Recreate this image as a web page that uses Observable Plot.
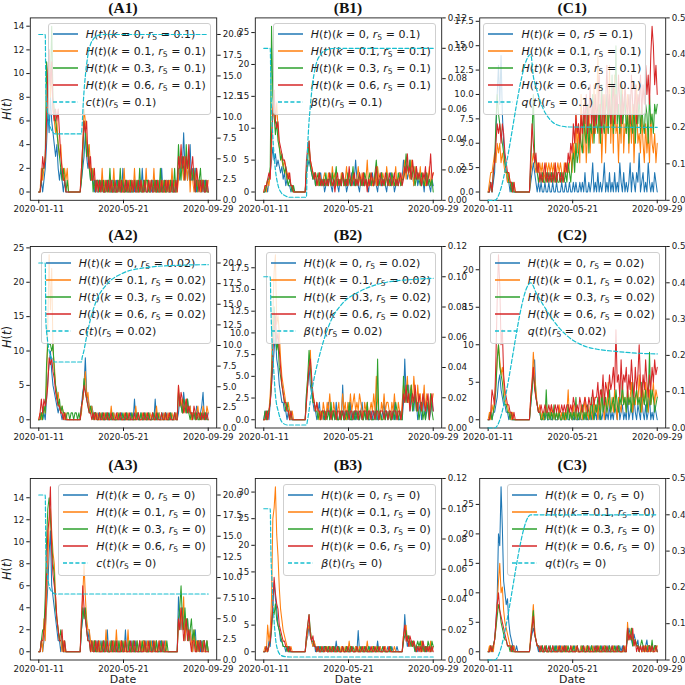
<!DOCTYPE html>
<html><head><meta charset="utf-8">
<script src="https://cdn.jsdelivr.net/npm/d3@7"></script>
<script src="https://cdn.jsdelivr.net/npm/@observablehq/plot@0.6"></script>
<style>
body{margin:0;background:#fff;}
#fig{position:relative;width:685px;height:685px;background:#fff;overflow:hidden;font-family:"DejaVu Sans",sans-serif;}
#fig > svg{position:absolute;left:0;top:0;}
.ttl{position:absolute;transform:translate(-50%,-50%);font-family:"Liberation Serif","DejaVu Serif",serif;font-weight:bold;font-size:15.5px;line-height:1;color:#111;white-space:nowrap;}
.xl{position:absolute;transform:translate(-50%,-50%);font-size:11px;line-height:1.1;color:#1a1a1a;white-space:nowrap;}
.yl{position:absolute;transform:translate(-50%,-50%) rotate(-90deg);font-size:11.5px;line-height:1.1;color:#1a1a1a;white-space:nowrap;}
.leg{position:absolute;background:rgba(255,255,255,0.8);border:1px solid #cfcfcf;border-radius:3px;padding:1.5px 4px 3px 4px;font-size:11px;color:#1a1a1a;}
.leg .row{display:flex;align-items:center;height:17px;white-space:nowrap;}
.leg .row svg{margin-right:8px;flex:none;}
.leg sub{font-size:0.7em;vertical-align:-0.3em;line-height:0;}
</style>
</head><body>
<div id="fig"></div>
<script>
// ---------------- data ----------------
const startDate = "2020-01-11";
const stepDays = 2;
const xTickLabels = ["2020-01-11", "2020-05-21", "2020-09-29"];
const kValues = ["0", "0.1", "0.3", "0.6"];
const r5Values = ["0.1", "0.02", "0"];
const colLetters = ["A", "B", "C"];
const secSymbols = ["c", "β", "q"];

// H(t) series, one value every 2 days (11 rows of 12 values = days 0..262)
const A1_k0 = [0,0,1,0,1,2,4,7,5,8,6,5, 4,3,4,2,1,2,1,0,1,0,0,0, 0,0,0,0,0,0,0,0,0,1,2,3, 5,3,2,3,1,2,1,0,1,0,0,1, 0,1,0,0,1,0,1,0,0,1,0,0, 1,0,1,0,0,2,0,1,0,0,1,0, 0,1,0,1,0,0,1,0,2,0,1,0, 0,1,0,0,1,0,1,0,0,1,0,2, 0,1,0,1,0,0,1,0,1,0,0,1, 2,1,3,2,5,2,3,1,2,4,1,2, 1,2,0,1,1,0,1,0,1,0,1,0];
const A1_k1 = [0,0,2,1,2,3,6,9,12,8,10,7, 6,5,6,4,3,4,2,1,2,1,2,0, 0,0,0,0,0,0,0,0,0,2,4,7, 6,4,3,4,2,1,2,1,0,1,0,1, 0,2,0,1,0,1,0,0,1,0,2,0, 0,1,0,1,0,0,2,0,1,0,1,0, 1,0,2,0,1,0,0,1,0,1,0,2, 0,1,0,1,0,2,0,0,1,0,1,0, 1,0,0,1,0,1,0,2,0,1,0,0, 1,3,2,2,1,3,2,1,3,0,2,1, 0,1,2,0,1,0,1,1,0,1,0,1];
const A1_k3 = [0,0,1,2,2,3,11,8,10,9,14,8, 7,6,5,4,3,2,1,2,1,0,1,0, 0,0,0,0,0,0,0,0,0,1,3,6, 5,3,4,2,1,2,0,1,0,1,1,0, 1,0,1,0,0,1,0,2,0,0,1,0, 0,1,0,2,0,1,0,0,1,0,0,1, 0,0,1,0,1,0,2,0,0,1,0,1, 1,0,0,1,0,1,0,1,0,0,2,0, 0,1,0,0,1,0,1,0,0,2,0,1, 4,2,1,3,2,1,4,2,3,1,2,1, 2,0,1,0,1,2,0,1,0,1,0,0];
const A1_k6 = [0,0,1,3,2,3,6,10,12,9,11,7, 6,7,6,7,5,3,2,1,1,0,0,0, 0,0,0,0,0,0,0,0,0,2,4,6, 5,6,3,2,3,1,1,2,0,1,0,1, 0,1,0,0,1,0,1,0,1,0,0,1, 0,0,1,0,1,0,0,1,0,1,0,0, 1,0,1,0,0,1,0,1,0,0,1,0, 0,1,0,1,0,0,1,0,1,0,0,1, 0,0,1,0,1,0,0,1,0,0,1,0, 3,2,4,2,3,1,3,2,4,1,2,3, 1,0,2,1,0,1,0,1,0,0,1,0];

const A2_k0 = [0,0,1,0,1,0,3,6,8,10,7,5, 4,3,2,1,2,1,0,1,0,0,0,0, 0,0,0,0,0,0,0,0,0,2,4,5, 9,4,3,2,1,2,1,0,1,0,1,0, 0,1,0,0,1,0,0,1,0,0,1,0, 0,1,0,0,1,0,0,0,1,0,0,1, 0,0,3,0,1,0,0,1,0,0,1,0, 0,1,0,0,1,0,3,0,0,1,0,0, 1,0,0,1,0,0,1,0,0,0,1,0, 1,3,2,1,4,2,1,3,1,2,0,1, 1,0,2,1,0,1,2,4,0,1,0,1];
const A2_k1 = [0,1,0,1,2,1,5,14,24,16,22,10, 8,5,3,4,2,1,2,1,0,1,0,0, 0,0,0,0,0,0,0,0,0,1,3,5, 7,3,4,2,1,2,0,1,0,1,0,0, 1,0,0,1,0,1,0,0,2,0,1,0, 0,1,0,1,0,0,1,0,0,1,0,0, 1,0,0,2,0,1,0,0,1,0,0,1, 0,0,1,0,1,0,0,2,0,1,0,0, 0,1,0,0,1,0,0,1,0,0,1,0, 5,2,3,1,2,1,3,2,1,2,0,1, 1,0,1,2,0,1,0,2,1,0,2,1];
const A2_k3 = [0,0,1,0,2,1,8,11,11,11,10,11, 7,5,4,2,3,1,2,1,1,0,1,1, 0,1,1,0,1,1,0,1,0,2,3,6, 4,3,2,1,2,1,0,1,1,0,0,1, 0,1,0,0,1,0,1,0,0,1,0,0, 0,0,1,0,0,1,0,0,1,0,0,0, 1,0,0,0,1,0,0,1,0,0,1,0, 0,1,0,0,0,1,0,0,1,0,0,1, 0,0,1,0,0,0,1,0,0,1,0,0, 4,3,2,1,3,2,1,3,1,0,1,0, 1,0,1,0,0,1,0,1,0,1,0,0];
const A2_k6 = [0,1,3,1,3,2,3,5,9,8,9,7, 6,4,3,2,2,1,1,0,1,0,0,0, 0,0,0,0,0,0,0,0,0,2,3,5, 4,3,2,1,1,0,1,0,1,0,0,1, 0,0,1,0,0,1,0,0,1,0,0,0, 1,0,0,1,0,0,0,1,0,0,1,0, 0,0,1,0,0,1,0,0,0,1,0,0, 1,0,0,0,1,0,0,1,0,0,0,1, 0,0,1,0,0,1,0,0,0,1,0,0, 5,2,4,3,1,2,3,1,2,1,1,0, 2,1,0,1,1,0,1,0,1,0,1,0];

const A3_k0 = [0,0,1,0,1,2,4,6,9,11,6,5, 4,3,2,1,1,0,1,0,0,0,0,0, 0,0,0,0,0,0,0,0,0,2,3,4, 3,2,1,2,0,1,0,1,0,1,0,0, 1,0,0,1,0,2,0,0,1,0,1,0, 0,1,0,0,1,0,0,2,0,1,0,0, 1,0,0,1,0,0,1,0,0,1,0,1, 0,0,1,0,1,0,0,1,0,0,1,0, 0,1,0,0,0,0,0,0,0,0,0,0, 5,3,2,4,3,1,2,3,1,2,1,0, 1,2,0,1,1,0,1,0,1,0,1,0];
const A3_k1 = [0,0,1,0,3,1,5,8,12,13,11,9, 8,5,3,2,1,1,0,1,0,0,0,0, 0,0,0,0,0,0,0,0,0,3,5,8, 5,3,2,2,1,0,1,0,1,0,0,1, 0,0,1,0,2,0,0,1,0,0,1,0, 2,0,0,1,0,0,1,0,0,2,0,0, 0,1,0,0,1,0,0,1,0,1,0,0, 1,0,0,1,0,0,1,0,0,1,0,1, 0,0,1,0,0,0,0,0,0,0,0,0, 3,2,4,2,5,1,3,2,1,2,1,0, 2,0,1,0,1,1,0,1,0,0,1,0];
const A3_k3 = [0,0,1,2,2,5,10,13,14,12,10,8, 7,4,3,2,1,2,1,0,1,0,0,0, 0,0,0,0,0,0,0,0,0,2,4,3, 4,2,1,1,0,1,0,1,0,0,1,0, 0,1,0,0,1,0,0,0,1,0,0,1, 0,0,1,0,0,1,0,1,0,0,1,0, 0,1,0,0,1,0,0,0,1,0,1,0, 0,0,1,0,0,1,0,1,0,0,0,1, 0,0,0,1,0,0,0,0,0,0,0,0, 3,4,6,3,2,4,2,3,1,2,3,1, 2,1,0,1,0,1,0,1,1,0,1,0];
const A3_k6 = [0,0,1,1,2,3,7,11,12,15,9,7, 6,5,3,2,1,1,2,0,1,0,0,0, 0,0,0,0,0,0,0,0,0,3,6,4, 3,2,1,1,0,1,0,0,1,0,1,0, 0,0,1,0,0,1,0,0,0,1,0,0, 1,0,0,0,1,0,0,1,0,0,0,1, 0,0,1,0,0,0,1,0,0,0,1,0, 0,1,0,0,0,1,0,0,0,1,0,0, 1,0,0,0,0,0,0,0,0,0,0,0, 3,2,4,3,1,2,3,1,2,1,0,1, 1,0,0,1,0,1,0,0,1,0,0,0];

const B1_k0 = [0,0,1,0,2,3,5,7,5,6,4,5, 4,3,4,2,3,1,2,1,1,0,1,0, 0,0,0,0,0,0,0,0,0,3,4,5, 4,3,2,3,1,2,1,2,3,1,2,0, 1,2,1,3,1,0,2,1,2,1,0,2, 1,3,1,2,0,1,2,1,3,1,2,5, 2,1,0,2,1,3,1,2,1,0,2,1, 3,1,2,1,0,2,1,3,1,2,1,0, 2,1,3,1,2,0,1,2,1,3,1,2, 5,3,4,2,3,5,2,3,1,2,4,1, 2,3,1,2,0,3,1,2,1,0,2,1];
const B1_k1 = [0,1,0,2,1,3,7,13,15,11,14,10, 7,6,5,4,5,3,2,3,2,1,1,0, 0,0,0,0,0,0,0,0,0,4,6,7, 5,4,3,2,3,2,1,3,2,1,2,3, 2,1,3,2,1,4,2,3,1,2,2,1, 3,2,1,2,4,1,3,2,1,3,2,1, 2,4,2,1,3,2,1,2,5,1,2,3, 1,2,3,1,4,2,2,1,3,2,1,4, 2,1,2,3,1,2,4,1,2,3,1,2, 3,5,2,4,3,2,5,3,1,4,2,3, 2,4,1,3,2,1,3,2,4,1,2,3];
const B1_k3 = [0,0,1,2,2,4,26,15,12,9,11,8, 7,5,6,4,3,4,2,1,2,1,0,1, 0,0,0,0,0,0,0,0,0,3,5,8, 4,3,2,3,1,2,3,1,2,1,2,1, 3,1,2,2,1,3,1,2,4,1,2,1, 2,3,1,2,1,3,2,1,2,4,1,2, 1,2,3,1,2,1,3,2,1,2,3,1, 2,1,3,5,2,1,2,3,1,2,1,3, 1,2,1,3,2,1,2,1,3,2,1,2, 2,3,6,4,3,5,2,3,4,1,2,3, 2,1,3,2,1,2,3,1,2,1,2,0];
const B1_k6 = [0,1,1,2,3,2,9,12,16,11,10,11, 8,7,6,5,5,4,3,2,3,1,1,0, 0,0,0,0,0,0,0,0,0,5,7,8, 5,4,3,2,3,1,2,3,1,2,1,2, 1,2,1,3,2,1,2,0,2,3,1,2, 1,3,2,1,2,1,4,2,1,2,3,1, 2,1,3,2,1,3,1,2,0,2,1,3, 2,1,2,4,1,2,3,1,2,1,3,2, 1,3,2,1,2,3,1,2,1,2,3,1, 2,4,3,6,3,4,2,5,3,2,4,2, 3,2,1,3,2,4,1,2,3,6,2,3];

const B2_k0 = [0,1,0,1,0,2,4,6,8,10,7,6, 4,3,2,2,1,1,0,1,0,0,0,0, 0,0,0,0,0,0,0,0,0,3,4,6, 4,3,2,1,1,0,1,2,0,1,0,1, 0,1,2,0,1,0,1,0,2,0,0,1, 0,4,0,1,0,1,0,2,0,0,1,0, 1,0,0,1,2,0,1,0,1,0,0,1, 0,1,0,2,0,0,1,0,1,2,0,1, 0,1,0,1,0,2,0,1,0,0,1,0, 2,7,3,2,4,1,3,2,1,3,2,0, 1,2,0,1,3,0,2,1,0,1,2,1];
const B2_k1 = [0,0,1,0,1,3,6,12,17,19,11,12, 10,7,5,4,3,2,1,2,1,0,1,0, 0,0,0,0,0,0,0,0,0,2,5,6, 8,4,3,2,1,2,1,0,1,0,2,1, 0,2,1,3,1,0,2,1,0,1,2,0, 1,3,1,2,0,2,1,3,1,2,3,1, 2,1,3,2,1,0,2,1,2,0,1,2, 1,3,1,5,2,1,0,2,1,3,1,2, 2,1,0,2,1,3,1,0,2,1,0,2, 4,2,3,5,2,3,4,2,5,3,1,4, 2,3,1,2,4,1,3,2,1,3,2,3];
const B2_k3 = [0,1,0,1,1,2,5,9,13,10,8,9, 6,5,4,3,2,1,2,1,0,1,0,0, 0,0,0,0,0,0,0,0,0,3,5,8, 6,4,2,2,1,1,0,1,0,1,1,0, 1,0,1,0,2,0,1,0,1,0,0,1, 0,1,0,0,1,0,2,0,0,1,0,1, 0,1,0,1,0,0,1,0,2,0,1,0, 0,0,1,0,7,0,1,0,0,1,0,1, 0,1,0,0,1,0,2,1,0,1,0,0, 5,3,2,4,3,2,4,1,2,3,1,2, 0,1,2,0,1,0,1,2,0,3,1,0];
const B2_k6 = [0,0,1,0,1,2,4,8,10,12,9,10, 8,6,4,3,2,2,1,1,0,1,0,0, 0,0,0,0,0,0,0,0,0,2,4,6, 7,5,3,2,1,2,1,1,0,1,1,1, 0,1,1,1,0,1,1,1,0,1,1,0, 1,1,0,1,1,1,0,1,1,0,1,1, 1,0,1,1,0,1,1,1,0,1,1,0, 1,1,0,1,1,0,1,1,1,0,1,1, 0,1,1,0,1,1,1,0,1,1,0,1, 3,2,4,2,3,1,2,3,2,4,2,1, 3,2,1,3,2,1,2,3,0,2,3,1];

const B3_k0 = [0,0,1,0,2,1,5,9,13,10,8,5, 4,2,2,1,1,0,1,0,0,0,0,0, 0,0,0,0,0,0,0,0,0,2,3,5, 3,2,1,2,0,1,0,1,0,0,1,0, 1,0,0,1,0,1,0,0,2,0,1,0, 0,1,0,0,1,0,0,0,1,0,0,1, 0,4,0,0,1,0,0,1,0,0,1,0, 0,1,0,0,2,0,1,0,0,1,0,0, 1,0,0,1,0,0,0,1,0,0,0,0, 2,7,3,1,2,1,2,1,2,0,1,0, 1,0,1,2,0,1,0,1,0,1,0,1];
const B3_k1 = [0,1,0,5,2,4,10,25,27,31,22,18, 12,8,6,4,3,2,1,1,0,1,0,0, 0,0,0,0,0,0,0,0,0,2,4,5, 4,2,1,2,1,0,1,0,0,1,0,1, 0,1,0,0,1,0,1,0,0,1,0,0, 1,0,0,1,0,0,2,0,1,0,0,1, 0,0,1,0,0,1,0,0,2,0,0,0, 1,0,0,1,0,0,1,0,0,0,1,0, 0,1,0,0,0,1,0,0,0,0,0,0, 3,4,5,2,3,1,2,1,2,1,0,1, 1,0,2,0,1,0,1,1,0,2,0,1];
const B3_k3 = [0,0,1,0,1,2,4,8,7,9,6,5, 4,3,2,1,1,1,0,1,0,0,0,0, 0,0,0,0,0,0,0,0,0,3,5,7, 4,2,2,1,1,0,1,0,1,0,0,1, 1,0,1,0,0,1,0,1,0,0,1,0, 0,1,0,0,1,0,0,1,0,1,0,0, 1,0,0,1,0,0,1,0,0,1,0,0, 0,1,0,0,1,0,0,0,1,0,0,0, 0,0,1,0,0,0,0,0,0,0,0,0, 2,3,4,2,3,2,1,2,1,0,1,2, 1,2,0,1,0,1,0,2,1,0,2,1];
const B3_k6 = [0,0,1,0,1,2,5,9,14,11,9,8, 5,4,3,2,2,1,1,0,1,0,0,0, 0,0,0,0,0,0,0,0,0,3,5,7, 3,2,3,1,1,0,1,0,0,1,0,0, 1,0,0,1,0,0,1,0,0,1,0,0, 0,1,0,0,0,1,0,0,1,0,0,0, 1,0,0,0,1,0,0,1,0,0,0,1, 0,0,1,0,0,1,0,0,0,1,0,0, 0,1,0,0,0,0,0,0,0,0,0,0, 3,5,2,3,1,3,2,1,2,1,0,1, 0,1,0,2,1,0,1,0,1,0,1,0];

const C1_k0 = [0,0,1,0,1,2,6,10,13,9,14,8, 5,3,2,1,1,0,1,0,0,0,0,0, 0,0,0,0,0,0,0,0,0,1,2,3, 2,1,0,1,0,1,0,0,1,0,0,1, 0,0,1,0,0,1,0,0,0,1,0,0, 1,0,0,1,0,0,1,0,1,0,0,1, 0,1,0,2,0,0,1,0,1,3,0,1, 0,2,0,1,0,1,3,0,1,0,2,0, 1,0,2,0,1,0,3,1,0,2,0,1, 0,1,3,0,2,1,0,2,1,4,0,1, 2,0,1,0,3,1,0,1,0,2,1,0];
const C1_k1 = [0,1,2,2,3,4,3,5,4,5,3,4, 3,2,2,1,2,1,1,0,1,0,0,0, 0,0,0,0,0,0,0,0,0,2,3,4, 3,2,3,2,3,2,3,1,2,3,2,3, 2,3,2,3,1,2,3,2,3,2,1,3, 2,3,2,3,4,2,5,3,8,4,7,3, 10,5,4,8,3,6,9,4,7,5,11,6, 8,14,5,9,3,7,10,4,8,6,13,5, 9,4,12,6,7,3,8,5,11,4,7,6, 10,4,8,5,9,3,7,11,5,6,4,8, 5,3,7,4,6,3,8,5,4,6,3,5];
const C1_k3 = [0,0,1,0,2,3,7,10,8,7,6,5, 4,3,2,2,1,1,0,1,0,0,0,0, 0,0,0,0,0,0,0,0,0,3,6,10, 4,3,2,1,2,1,2,1,1,2,1,2, 1,2,1,2,1,2,1,1,2,1,2,1, 2,1,3,2,1,3,4,2,5,3,4,6, 5,4,8,6,5,9,4,7,6,10,5,8, 7,6,9,5,11,7,6,8,10,6,9,7, 12,6,8,15,7,9,6,11,7,8,10,6, 8,5,10,7,6,9,5,8,7,10,6,9, 7,6,9,8,5,10,7,8,6,9,8,9];
const C1_k6 = [0,0,1,0,2,3,5,7,6,7,5,7, 6,4,3,2,2,1,1,0,1,0,0,0, 0,0,0,0,0,0,0,0,0,4,7,5, 3,4,2,3,1,2,1,2,3,1,2,1, 2,1,2,1,3,1,2,2,1,2,1,2, 3,2,4,3,5,4,7,5,8,6,7,5, 8,6,9,7,10,6,8,11,7,9,6,10, 7,9,12,8,6,10,7,9,13,8,10,7, 9,11,7,10,8,12,9,7,10,8,11,9, 8,10,7,12,9,8,11,7,10,9,12,8, 11,9,13,10,12,9,14,17,15,11,13,10];

const C2_k0 = [0,0,1,0,1,1,2,3,5,6,4,3, 2,2,1,1,0,1,0,0,0,0,0,0, 0,0,0,0,0,0,0,0,0,2,4,6, 8,3,2,1,1,0,1,0,0,1,0,0, 1,0,0,1,0,0,0,1,0,0,1,0, 0,1,0,0,1,0,0,1,0,0,0,1, 0,0,1,0,1,0,0,1,0,2,0,1, 0,2,0,1,0,1,3,0,1,0,2,0, 1,0,2,1,0,3,0,1,2,0,1,0, 3,0,1,2,0,3,1,0,2,1,0,3, 1,0,2,0,1,3,0,1,0,2,1,0];
const C2_k1 = [0,1,0,2,1,3,5,8,10,8,6,7, 5,3,2,2,1,1,0,1,0,0,0,0, 0,0,0,0,0,0,0,0,0,3,5,9, 6,4,2,1,2,0,1,0,1,2,0,1, 0,2,0,1,0,1,0,2,0,1,0,1, 0,1,4,0,1,0,2,0,1,0,1,0, 2,0,1,3,0,1,0,2,1,0,3,1, 2,0,3,1,4,2,0,3,1,5,2,1, 3,1,4,2,0,3,2,1,4,2,3,1, 4,2,3,5,1,3,2,4,2,6,3,1, 4,2,5,3,1,4,2,3,5,2,4,3];
const C2_k3 = [0,0,1,0,1,2,4,8,10,7,6,5, 3,2,2,1,1,0,1,0,0,0,0,0, 0,0,0,0,0,0,0,0,0,2,4,6, 5,3,2,1,1,0,0,1,0,4,0,1, 0,1,0,2,0,1,0,1,0,0,1,0, 1,0,2,0,1,0,1,0,3,0,1,0, 1,2,0,1,0,2,1,0,3,1,0,2, 1,3,2,0,4,1,2,3,1,2,4,1, 2,3,1,4,2,1,3,2,5,2,3,1, 4,2,3,1,5,2,3,4,2,3,1,5, 3,2,4,1,3,9,2,4,3,1,2,3];
const C2_k6 = [0,0,1,4,3,2,8,16,22,18,10,12, 6,4,3,2,2,1,1,0,1,0,0,0, 0,0,0,0,0,0,0,0,0,3,5,7, 4,3,2,1,1,2,1,1,2,1,1,2, 1,2,1,1,2,1,2,1,1,2,1,2, 1,2,2,1,2,1,3,2,1,2,1,3, 2,1,2,3,2,1,3,2,2,4,2,3, 3,5,2,4,3,6,2,5,4,3,6,4, 5,7,4,12,5,6,3,8,4,6,5,7, 3,6,4,8,5,3,7,4,6,10,5,3, 6,4,8,5,3,6,4,7,5,8,6,7];

const C3_k0 = [0,0,1,0,1,2,5,9,20,18,28,21, 12,10,8,9,5,3,2,1,1,0,1,0, 0,0,0,0,0,0,0,0,0,2,3,4, 3,2,1,0,1,0,1,0,0,1,0,0, 1,0,0,1,0,1,0,0,1,0,0,1, 0,1,0,0,1,0,0,1,0,1,0,0, 1,0,1,0,0,1,0,0,1,0,1,0, 0,1,0,0,1,0,1,0,0,1,0,0, 1,0,0,1,0,0,1,0,1,0,0,1, 2,4,3,2,1,3,2,1,2,0,1,0, 1,0,1,2,0,1,0,1,0,1,1,0];
const C3_k1 = [0,1,0,1,0,2,4,8,12,15,10,11, 7,5,4,3,2,1,1,0,1,0,0,0, 0,0,0,0,0,0,0,0,0,3,5,8, 4,2,1,1,0,1,0,0,1,0,0,0, 0,0,1,0,0,0,1,0,0,1,0,0, 0,1,0,0,0,1,0,0,1,0,0,0, 1,0,0,0,1,0,0,0,0,1,0,0, 0,0,1,0,0,0,1,0,0,0,1,0, 0,1,0,0,0,1,0,0,0,0,1,0, 5,2,3,4,2,1,2,1,1,0,1,0, 0,1,0,1,1,0,1,0,0,1,0,1];
const C3_k3 = [0,0,1,0,1,2,4,6,8,7,5,4, 3,2,2,1,1,0,1,0,0,0,0,0, 0,0,0,0,0,0,0,0,0,2,4,7, 3,2,1,1,0,0,1,0,0,1,0,0, 1,0,0,0,1,0,0,1,0,0,0,1, 0,0,1,0,0,0,1,0,0,1,0,0, 0,1,0,0,0,1,0,0,1,0,0,0, 1,0,0,1,0,0,0,1,0,0,1,0, 0,0,1,0,0,1,0,0,0,1,0,0, 4,3,2,4,1,2,2,1,1,0,1,2, 1,0,1,0,1,1,0,2,0,1,1,0];
const C3_k6 = [0,0,1,0,1,2,5,8,10,7,6,5, 4,3,2,1,1,1,0,1,0,0,0,0, 0,0,0,0,0,0,0,0,0,2,4,6, 3,2,1,1,0,1,0,0,1,0,0,1, 0,0,1,0,0,0,0,1,0,0,1,0, 1,0,0,0,1,0,0,0,0,1,0,0, 0,0,1,0,0,0,1,0,0,0,0,1, 0,1,0,0,0,1,0,0,1,0,0,0, 1,0,0,0,1,0,0,0,0,1,0,0, 4,2,3,2,4,1,2,0,1,0,1,0, 1,0,1,0,0,1,0,1,0,0,1,0];

// secondary (dashed) series: day offsets and values
const A1_secDays = [0,10,11,13,15,18,21,25,66,67,69,72,76,80,85,92,100,262];
const A1_secVals = [20,20,13,11,9.8,8.8,8.3,8,8,9,12,15,17.5,18.8,19.5,19.9,20,20];
const A2_secDays = [0,10,11,13,15,18,21,25,66,67,69,75,80,90,105,131,162,208,262];
const A2_secVals = [20,20,13,11,9.8,8.8,8.3,8,8,8.5,9.1,11.5,13.2,15.6,17.4,18.8,19.4,19.7,19.8];
const A3_secDays = [0,10,11,13,16,20,26,262];
const A3_secVals = [20,20,13,10.5,9,8.3,8,8];
const B1_secDays = [0,10,11,13,15,18,22,27,33,40,66,67,69,72,75,80,88,97,110,262];
const B1_secVals = [0.1,0.1,0.075,0.05,0.035,0.02,0.01,0.005,0.003,0.002,0.002,0.025,0.045,0.062,0.075,0.088,0.096,0.099,0.1,0.1];
const B2_secDays = [0,10,11,13,15,18,23,28,36,66,68,72,77,85,95,105,121,147,172,198,224,262];
const B2_secVals = [0.1,0.1,0.08,0.055,0.041,0.022,0.01,0.004,0.002,0.002,0.006,0.018,0.031,0.046,0.061,0.072,0.082,0.09,0.0945,0.097,0.098,0.099];
const B3_secDays = [0,10,11,13,15,18,22,27,33,40,262];
const B3_secVals = [0.1,0.1,0.072,0.05,0.0325,0.015,0.006,0.003,0.0022,0.002,0.002];
const C1_secDays = [0,10,66,70,75,80,85,90,95,100,110,125,262];
const C1_secVals = [0,0,0.4,0.34,0.305,0.275,0.252,0.235,0.223,0.214,0.205,0.201,0.2];
const C2_secDays = [0,10,66,75,85,95,108,121,146,172,198,223,262];
const C2_secVals = [0,0,0.4,0.37,0.34,0.312,0.28,0.256,0.228,0.216,0.211,0.207,0.204];
const C3_secDays = [0,10,66,262];
const C3_secVals = [0,0,0.4,0.4];

// tick values
const A1_leftTicks = [0,2,4,6,8,10,12,14];
const B1_leftTicks = [0,5,10,15,20,25];
const C1_leftTicks = [0,2.5,5,7.5,10,12.5,15,17.5];
const A2_leftTicks = [0,5,10,15,20,25];
const B2_leftTicks = [0,2.5,5,7.5,10,12.5,15,17.5];
const C2_leftTicks = [0,5,10,15,20];
const A3_leftTicks = [0,2,4,6,8,10,12,14];
const B3_leftTicks = [0,5,10,15,20,25,30];
const C3_leftTicks = [0,5,10,15,20,25];
const cTicks = [0,2.5,5,7.5,10,12.5,15,17.5,20];
const betaTicks = [0,0.02,0.04,0.06,0.08,0.1,0.12];
const qTicks = [0,0.1,0.2,0.3,0.4,0.5];
const secDomains = [[0,22],[0,0.12],[0,0.5]];

// ---------------- layout ----------------
const W = 685, H = 685;
const colFrames = [[29.8,216.2],[254.8,441.2],[479.2,665.2]];
const rowFrames = [[17.4,199.8],[246,427.5],[478,659.5]];
const titleY = [8.4,235,465];
const colors = ["#1f77b4","#ff7f0e","#2ca02c","#d62728"];
const secColor = "#17becf";

const start = new Date(startDate + "T00:00:00Z");
const toDate = d => new Date(+start + d * 864e5);
const xTicks = xTickLabels.map(s => new Date(s + "T00:00:00Z"));
const spanMs = xTicks[2] - xTicks[0];
const xDomain = [new Date(+xTicks[0] - 0.05 * spanMs), new Date(+xTicks[2] + 0.05 * spanMs)];
const fmtDate = d3.utcFormat("%Y-%m-%d");
const f1 = d3.format(".1f"), f2 = d3.format(".2f"), f0 = d => String(d);

const panels = [
  {col:0,row:0,series:[A1_k0,A1_k1,A1_k3,A1_k6],secDays:A1_secDays,secVals:A1_secVals,leftTicks:A1_leftTicks,leftFmt:f0},
  {col:1,row:0,series:[B1_k0,B1_k1,B1_k3,B1_k6],secDays:B1_secDays,secVals:B1_secVals,leftTicks:B1_leftTicks,leftFmt:f0},
  {col:2,row:0,series:[C1_k0,C1_k1,C1_k3,C1_k6],secDays:C1_secDays,secVals:C1_secVals,leftTicks:C1_leftTicks,leftFmt:f1,plainR5:true,legendLeft:true},
  {col:0,row:1,series:[A2_k0,A2_k1,A2_k3,A2_k6],secDays:A2_secDays,secVals:A2_secVals,leftTicks:A2_leftTicks,leftFmt:f0},
  {col:1,row:1,series:[B2_k0,B2_k1,B2_k3,B2_k6],secDays:B2_secDays,secVals:B2_secVals,leftTicks:B2_leftTicks,leftFmt:f1},
  {col:2,row:1,series:[C2_k0,C2_k1,C2_k3,C2_k6],secDays:C2_secDays,secVals:C2_secVals,leftTicks:C2_leftTicks,leftFmt:f0},
  {col:0,row:2,series:[A3_k0,A3_k1,A3_k3,A3_k6],secDays:A3_secDays,secVals:A3_secVals,leftTicks:A3_leftTicks,leftFmt:f0},
  {col:1,row:2,series:[B3_k0,B3_k1,B3_k3,B3_k6],secDays:B3_secDays,secVals:B3_secVals,leftTicks:B3_leftTicks,leftFmt:f0},
  {col:2,row:2,series:[C3_k0,C3_k1,C3_k3,C3_k6],secDays:C3_secDays,secVals:C3_secVals,leftTicks:C3_leftTicks,leftFmt:f0},
];
const secTicks = [cTicks, betaTicks, qTicks];
const secFmts = [f1, f2, f1];

const fig = document.getElementById("fig");
const baseStyle = {background:"transparent", fontFamily:"DejaVu Sans", fontSize:"8.7px", color:"#1a1a1a", overflow:"visible"};
const layer1 = [], layer2 = [], legs = [], texts = [];

function handle(color, dashed) {
  return `<svg width="25" height="10"><line x1="0" y1="5" x2="25" y2="5" stroke="${color}" stroke-width="1.5"${dashed ? ' stroke-dasharray="4,2.2"' : ''}/></svg>`;
}

panels.forEach(p => {
  const [x0, x1] = colFrames[p.col], [y0, y1] = rowFrames[p.row];
  const M = d3.max(p.series.flat());
  const margins = {width:W, height:H, marginLeft:x0, marginRight:W - x1, marginTop:y0, marginBottom:H - y1};
  const lineMarks = p.series.map((s, k) =>
    Plot.line(s.map((v, i) => ({date: toDate(i * stepDays), v})),
      {x:"date", y:"v", stroke:colors[k], strokeWidth:1.05}));
  layer1.push(Plot.plot({
    ...margins, style:baseStyle,
    x:{type:"utc", domain:xDomain, axis:null},
    y:{domain:[-0.05 * M, 1.05 * M], axis:null},
    marks:[
      ...lineMarks,
      Plot.frame({stroke:"#1a1a1a", strokeWidth:0.9}),
      Plot.axisX({ticks:xTicks, tickFormat:fmtDate, tickSize:3.5, tickPadding:2.5, label:null}),
      Plot.axisY({ticks:p.leftTicks, tickFormat:p.leftFmt, tickSize:3.5, tickPadding:2.5, label:null})
    ]
  }));
  const secData = p.secDays.map((d, i) => ({date: toDate(d), v: p.secVals[i]}));
  layer2.push(Plot.plot({
    ...margins, style:baseStyle,
    x:{type:"utc", domain:xDomain, axis:null},
    y:{domain:secDomains[p.col], axis:null},
    marks:[
      Plot.line(secData, {x:"date", y:"v", stroke:secColor, strokeWidth:1.2, strokeDasharray:"4,2.2", curve:"monotone-x"}),
      Plot.axisY({anchor:"right", ticks:secTicks[p.col], tickFormat:secFmts[p.col], tickSize:3.5, tickPadding:2.5, label:null})
    ]
  }));
  // legend
  const r5 = r5Values[p.row];
  const leg = document.createElement("div");
  leg.className = "leg";
  if (p.legendLeft) leg.style.left = (x0 + 4.2) + "px";
  else leg.style.right = (W - (x1 - 5.5)) + "px";
  leg.style.top = (y0 + 6) + "px";
  let html = "";
  kValues.forEach((k, i) => {
    const rTxt = (p.plainR5 && i === 0) ? `<i>r5</i>` : `<i>r</i><sub>5</sub>`;
    html += `<div class="row">${handle(colors[i], false)}<span><i>H</i>(<i>t</i>)(<i>k</i> = ${k}, ${rTxt} = ${r5})</span></div>`;
  });
  html += `<div class="row">${handle(secColor, true)}<span><i>${secSymbols[p.col]}</i>(<i>t</i>)(<i>r</i><sub>5</sub> = ${r5})</span></div>`;
  leg.innerHTML = html;
  legs.push(leg);
  // title
  const t = document.createElement("div");
  t.className = "ttl";
  t.style.left = ((x0 + x1) / 2) + "px";
  t.style.top = titleY[p.row] + "px";
  t.textContent = `(${colLetters[p.col]}${p.row + 1})`;
  texts.push(t);
  if (p.col === 0) {
    const yl = document.createElement("div");
    yl.className = "yl";
    yl.style.left = "6.5px";
    yl.style.top = ((y0 + y1) / 2) + "px";
    yl.innerHTML = "<i>H</i>(<i>t</i>)";
    texts.push(yl);
  }
  if (p.row === 2) {
    const xl = document.createElement("div");
    xl.className = "xl";
    xl.style.left = ((x0 + x1) / 2) + "px";
    xl.style.top = "680px";
    xl.textContent = "Date";
    texts.push(xl);
  }
});
layer1.forEach(s => fig.appendChild(s));
legs.forEach(l => fig.appendChild(l));
layer2.forEach(s => fig.appendChild(s));
texts.forEach(t => fig.appendChild(t));
</script>
</body></html>
